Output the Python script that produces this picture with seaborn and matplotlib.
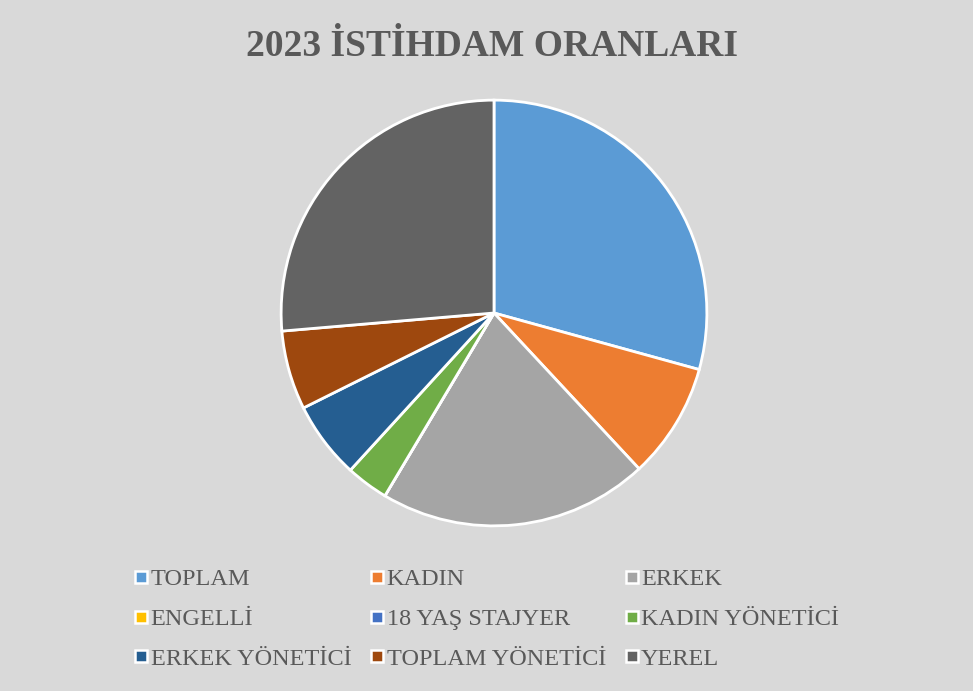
import matplotlib
matplotlib.use("Agg")
import matplotlib.pyplot as plt
from matplotlib.lines import Line2D
import seaborn as sns

# ---------------- data ----------------
labels = ["TOPLAM", "KADIN", "ERKEK", "ENGELLİ", "18 YAŞ STAJYER",
          "KADIN YÖNETİCİ", "ERKEK YÖNETİCİ", "TOPLAM YÖNETİCİ", "YEREL"]
values = [100, 30, 70, 0, 0, 11, 20, 20.5, 90]
colors = ["#5B9BD5", "#ED7D31", "#A5A5A5", "#FFC000", "#4472C4",
          "#70AD47", "#255E91", "#9E480E", "#636363"]
title = "2023 İSTİHDAM ORANLARI"

# ---------------- style ----------------
sns.set_style("white")
plt.rcParams["font.family"] = ["Liberation Serif", "DejaVu Serif"]
palette = sns.color_palette(colors)
bg = "#D9D9D9"
txt = "#595959"

fig = plt.figure(figsize=(9.73, 6.91), dpi=100, facecolor=bg)

# pie area
ax = fig.add_axes([279 / 973, 163 / 691, 430 / 973, 430 / 691])
ax.set_facecolor(bg)
ax.pie(values, colors=palette, startangle=90, counterclock=False,
       radius=1, wedgeprops=dict(edgecolor="white", linewidth=2))
ax.set_xlim(-1.01, 1.01)
ax.set_ylim(-1.01, 1.01)
ax.set_aspect("equal")
ax.axis("off")

fig.text(492 / 973, 1 - 47 / 691, title, ha="center", va="center",
         fontsize=27, fontweight="bold", color=txt)

# legend, filled row by row like the original
handles = [Line2D([], [], marker="s", linestyle="none", markersize=8,
                  markerfacecolor=c, markeredgecolor="white", markeredgewidth=1.8)
           for c in palette]
order = [0, 3, 6, 1, 4, 7, 2, 5, 8]
leg = fig.legend([handles[i] for i in order], [labels[i] for i in order],
                 ncol=3, loc="center", bbox_to_anchor=(487 / 973, 1 - 619 / 691),
                 frameon=False, fontsize=17.5, handlelength=0.55, handletextpad=0.1,
                 columnspacing=0.8, labelspacing=0.72, labelcolor=txt)

fig.savefig("out.png", dpi=100, facecolor=bg)
